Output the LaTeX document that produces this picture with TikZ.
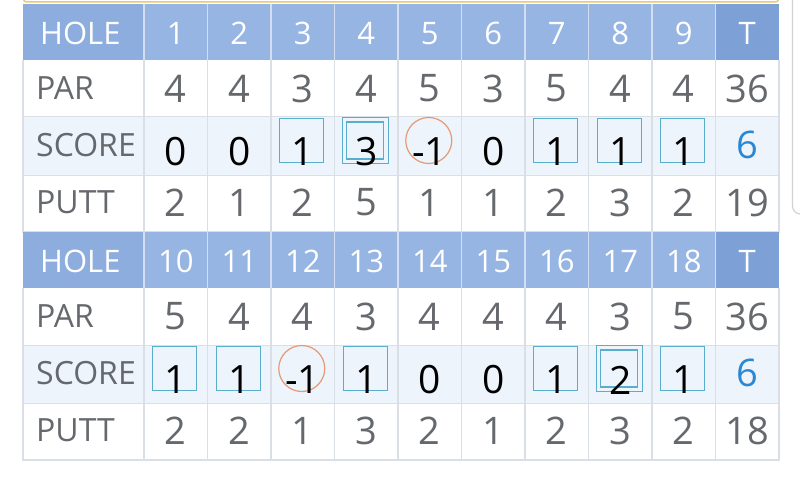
\documentclass[tikz,border=0pt]{standalone}
\usepackage{fontspec}
\setmainfont{Open Sans}
\usepackage{xcolor}
\usepackage{tikz}

\definecolor{headblue}{HTML}{8EADDF}
\definecolor{numblue}{HTML}{97B5E3}
\definecolor{totblue}{HTML}{7DA0D7}
\definecolor{scorebg}{HTML}{EEF4FC}
\definecolor{gridgray}{HTML}{DADFE5}
\definecolor{headline}{HTML}{D3DEF0}
\definecolor{txtgray}{HTML}{65686D}
\definecolor{birdie}{HTML}{E59A74}
\definecolor{bogey}{HTML}{58AECB}
\definecolor{totscore}{HTML}{2A87D4}
\definecolor{rimyellow}{HTML}{EFCB68}

\begin{document}
\begin{tikzpicture}[x=1pt,y=-1pt,
    cell/.style={inner sep=0pt,text=txtgray,font=\fontsize{38}{38}\selectfont},
    lab/.style={anchor=west,inner sep=0pt,text=txtgray,font=\fontsize{32}{32}\selectfont},
    head/.style={inner sep=0pt,text=white,font=\fontsize{31}{31}\selectfont},
    strokes/.style={inner sep=0pt,text=black,font=\fontsize{39}{39}\selectfont},
    bogeybox/.style={draw=bogey,line width=1.2pt,minimum size=44pt,inner sep=0pt},
    dblbox/.style={draw=bogey,line width=1.2pt,double=scorebg,double distance=3.3pt,minimum size=41.5pt,inner sep=0pt},
    birdiering/.style={circle,draw=birdie,line width=1.2pt,minimum size=46pt,inner sep=0pt}] % 记分卡
	\useasboundingbox (0,0) rectangle (800,484);
	\clip (0,0) rectangle (800,484);
	\fill[white] (0,0) rectangle (800,484);
	
	% 上方黄色边框和右侧面板
	\draw[rimyellow,line width=1.5pt,rounded corners=3pt] (23.5,-10) rectangle (778.5,2);
	\draw[gray!35,line width=1.2pt,rounded corners=8pt] (792.5,-10) rectangle (830,214);
	
	\foreach \top in {4,232}{
		\fill[headblue] (23,\top) rectangle (144,\top+56);
		\fill[numblue] (144,\top) rectangle (715.5,\top+56);
		\fill[totblue] (715.5,\top) rectangle (779,\top+56);
		\fill[scorebg] (23,\top+113) rectangle (779,\top+171);
		\foreach \k in {0,...,9}{
			\draw[headline,line width=1.5pt] (144+63.5*\k,\top) -- (144+63.5*\k,\top+56);
			\draw[gridgray,line width=1.5pt] (144+63.5*\k,\top+56) -- (144+63.5*\k,\top+228);}
		\draw[gridgray,line width=1pt] (23,\top+113) -- (779,\top+113);
		\draw[gridgray,line width=1pt] (23,\top+171) -- (779,\top+171);
		\draw[gridgray,line width=1.5pt] (23,\top+56) -- (23,\top+228) -- (779,\top+228) -- (779,\top+56);
	}
	
	% 第一张表 1-9
	\node[head,anchor=west] (hole) at (40,33.5) {HOLE};
	\node[lab] (par) at (36,88.5) {PAR};
	\node[lab] (score) at (36,145) {SCORE};
	\node[lab] (putt) at (36,202.5) {PUTT};
	
	\foreach \name [count=\c] in {1,2,3,4,5,6,7,8,9,T}{
		\node[head] (hole\c) at (112.25+63.5*\c,33.5) {\name};}
	\foreach \v [count=\c] in {4,4,3,4,5,3,5,4,4,36}{
		\node[cell] (par\c) at (112.25+63.5*\c,88.5) {\v};}
	
	\foreach \c in {3,7,8,9}{
		\node[bogeybox] (mark\c) at (111.25+63.5*\c,140.5) {};}
	\node[dblbox] (mark4) at (111.25+63.5*4,140.5) {};
	\node[birdiering] (mark5) at (111.25+63.5*5,140.5) {};
	
	\foreach \v [count=\c] in {0,0,1,3,-1,0,1,1,1}{
		\node[strokes] (score\c) at (112.25+63.5*\c,152) {\v};}
	\node[cell,text=totscore] (score10) at (747.25,145) {6};
	
	\foreach \v [count=\c] in {2,1,2,5,1,1,2,3,2,19}{
		\node[cell] (putt\c) at (112.25+63.5*\c,202.5) {\v};}
	
	% 第二张表 10-18
	\node[head,anchor=west] (holeb) at (40,261.5) {HOLE};
	\node[lab] (parb) at (36,316.5) {PAR};
	\node[lab] (scoreb) at (36,373) {SCORE};
	\node[lab] (puttb) at (36,430.5) {PUTT};
	
	\foreach \name [count=\c] in {10,11,12,13,14,15,16,17,18,T}{
		\node[head] (holeb\c) at (112.25+63.5*\c,261.5) {\name};}
	\foreach \v [count=\c] in {5,4,4,3,4,4,4,3,5,36}{
		\node[cell] (parb\c) at (112.25+63.5*\c,316.5) {\v};}
	
	\foreach \c in {1,2,4,7,9}{
		\node[bogeybox] (markb\c) at (111.25+63.5*\c,368.5) {};}
	\node[dblbox] (markb8) at (111.25+63.5*8,368.5) {};
	\node[birdiering] (markb3) at (111.25+63.5*3,368.5) {};
	
	\foreach \v [count=\c] in {1,1,-1,1,0,0,1,2,1}{
		\node[strokes] (scoreb\c) at (112.25+63.5*\c,380) {\v};}
	\node[cell,text=totscore] (scoreb10) at (747.25,373) {6};
	
	\foreach \v [count=\c] in {2,2,1,3,2,1,2,3,2,18}{
		\node[cell] (puttb\c) at (112.25+63.5*\c,430.5) {\v};}
\end{tikzpicture}
\end{document}
